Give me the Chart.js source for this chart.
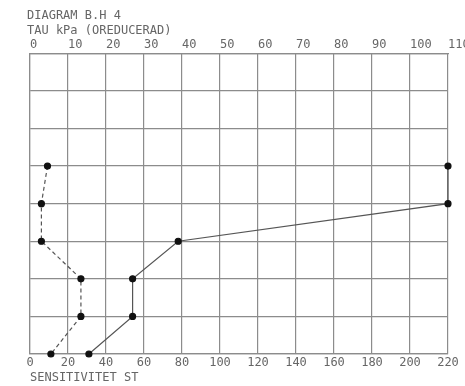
<!DOCTYPE html>
<html>
<head>
<meta charset="utf-8">
<script src="https://cdn.jsdelivr.net/npm/chart.js@4/dist/chart.umd.min.js"></script>
<style>
  html, body { margin: 0; padding: 0; background: #fff; }
  #wrap { width: 465px; height: 386px; }
</style>
</head>
<body>
<div id="wrap"><canvas id="diagram" width="465" height="386"></canvas></div>
<script>
// djup i rutor (0 = överkant), samma för båda serierna
const depth = [3, 4, 5, 6, 7, 8];
// skjuvhållfasthet tau kPa (oreducerad), övre skalan
const tauValues = [4.6, 3.0, 3.0, 13.4, 13.4, 5.5];
// sensitivitet St, undre skalan
const stValues = [220, 220, 78, 54, 54, 31];

const titleLines = ['DIAGRAM B.H 4', 'TAU kPa (OREDUCERAD)'];
const bottomAxisLabel = 'SENSITIVITET ST';

const textColor = '#666';
const gridColor = '#8c8c8c';
const monoFont = { family: '"DejaVu Sans Mono", monospace', size: 12, weight: 'normal', lineHeight: '15px' };

function pairs(xs, ys) {
    return xs.map((x, i) => ({ x: x, y: ys[i] }));
}

new Chart(document.getElementById('diagram'), {
    type: 'line',
    data: {
        datasets: [
            {
                label: 'TAU',
                xAxisID: 'x2',
                data: pairs(tauValues, depth),
                borderColor: '#555',
                borderWidth: 1.2,
                borderDash: [4, 3],
                pointRadius: 3,
                pointBackgroundColor: '#111',
                pointBorderColor: '#111',
                clip: false
            },
            {
                label: 'ST',
                xAxisID: 'x',
                data: pairs(stValues, depth),
                borderColor: '#555',
                borderWidth: 1.2,
                pointRadius: 3,
                pointBackgroundColor: '#111',
                pointBorderColor: '#111',
                clip: false
            }
        ]
    },
    options: {
        responsive: false,
        animation: false,
        layout: { padding: { left: 27, right: 17, top: 0, bottom: 0 } },
        plugins: {
            legend: { display: false },
            tooltip: { enabled: false },
            title: {
                display: true,
                text: titleLines,
                align: 'start',
                color: textColor,
                font: monoFont,
                padding: { top: 8, bottom: 0 }
            }
        },
        scales: {
            x: {
                type: 'linear',
                position: 'bottom',
                min: 0,
                max: 220,
                afterFit: s => { s.height = 32; },
                ticks: { stepSize: 20, color: textColor, font: monoFont, padding: 1, maxRotation: 0 },
                grid: { color: gridColor, lineWidth: 1.2, drawTicks: false },
                border: { color: gridColor, width: 1.2 },
                title: {
                    display: true,
                    text: bottomAxisLabel,
                    align: 'start',
                    color: textColor,
                    font: monoFont,
                    padding: { top: 0, bottom: 1 }
                }
            },
            x2: {
                type: 'linear',
                position: 'top',
                min: 0,
                max: 110,
                afterFit: s => { s.height = 15.3; s.paddingLeft = 0; s.paddingRight = 0; },
                ticks: { stepSize: 10, color: textColor, font: monoFont, padding: 1, align: 'start', maxRotation: 0 },
                grid: { display: false, drawTicks: false },
                border: { color: gridColor, width: 1.2 }
            },
            y: {
                type: 'linear',
                reverse: true,
                min: 0,
                max: 8,
                afterFit: s => { s.width = 3; },
                ticks: { stepSize: 1, display: false },
                grid: { color: gridColor, lineWidth: 1.2, drawTicks: false },
                border: { color: gridColor, width: 1.2 }
            }
        }
    }
});
</script>
</body>
</html>
